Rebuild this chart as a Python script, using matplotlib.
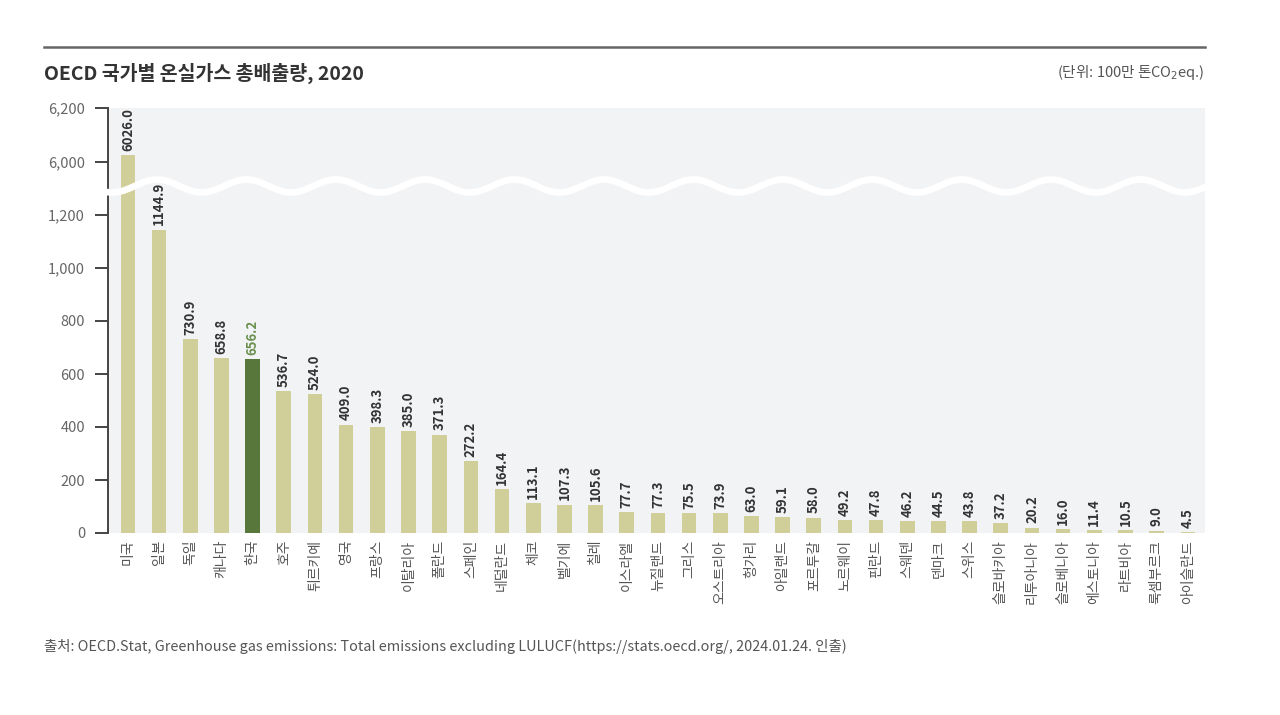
import numpy as np
import matplotlib
matplotlib.use("Agg")
import matplotlib.pyplot as plt
from matplotlib.lines import Line2D
from matplotlib.ticker import FuncFormatter

plt.rcParams['font.family'] = ['Noto Sans CJK KR', 'DejaVu Sans']

countries = ["미국", "일본", "독일", "캐나다", "한국", "호주", "튀르키예", "영국", "프랑스",
             "이탈리아", "폴란드", "스페인", "네덜란드", "체코", "벨기에", "칠레", "이스라엘",
             "뉴질랜드", "그리스", "오스트리아", "헝가리", "아일랜드", "포르투갈", "노르웨이",
             "핀란드", "스웨덴", "덴마크", "스위스", "슬로바키아", "리투아니아", "슬로베니아",
             "에스토니아", "라트비아", "룩셈부르크", "아이슬란드"]
values = [6026.0, 1144.9, 730.9, 658.8, 656.2, 536.7, 524.0, 409.0, 398.3,
          385.0, 371.3, 272.2, 164.4, 113.1, 107.3, 105.6, 77.7,
          77.3, 75.5, 73.9, 63.0, 59.1, 58.0, 49.2,
          47.8, 46.2, 44.5, 43.8, 37.2, 20.2, 16.0,
          11.4, 10.5, 9.0, 4.5]
highlight = "한국"
low_ticks = [0, 200, 400, 600, 800, 1000, 1200]
high_ticks = [6000, 6200]

W, H = 1280, 715
fig = plt.figure(figsize=(12.8, 7.15), dpi=100)

BG = "#f2f3f5"
BAR = "#d0cf9a"
KOR = "#58773b"
TXT = "#444444"

left, right = 108 / W, 1205 / W
y0 = 1 - 533 / H
ysplit = 1 - 188.5 / H
ytop = 1 - 108 / H

ax_lo = fig.add_axes([left, y0, right - left, ysplit - y0])
ax_hi = fig.add_axes([left, ysplit, right - left, ytop - ysplit], sharex=ax_lo)
ax_hi.set_zorder(0)
ax_lo.set_zorder(1)

x = np.arange(len(countries))
colors = [KOR if c == highlight else BAR for c in countries]

for ax in (ax_lo, ax_hi):
    ax.set_facecolor(BG)
    ax.bar(x, values, width=0.47, color=colors, zorder=2)
    for s in ("top", "right", "bottom"):
        ax.spines[s].set_visible(False)
    ax.spines["left"].set_color(TXT)
    ax.spines["left"].set_linewidth(1.4)
    ax.tick_params(axis="y", length=9.5, width=1.4, color=TXT, pad=7,
                   labelsize=10.5, labelcolor="#666666")
    ax.yaxis.set_major_formatter(FuncFormatter(lambda v, p: f"{int(v):,}"))

ax_lo.set_ylim(0, 1300)
ax_hi.set_ylim(5900, 6200)
ax_lo.set_yticks(low_ticks)
ax_hi.set_yticks(high_ticks)
ax_lo.set_xlim(-0.64, len(countries) - 1 + 0.55)

ax_lo.set_xticks(x)
ax_lo.set_xticklabels(countries, rotation=90, fontsize=10, color="#555555")
ax_lo.tick_params(axis="x", length=0, pad=5)
plt.setp(ax_hi.get_xticklabels(), visible=False)
ax_hi.tick_params(axis="x", length=0)

# value labels
for xi, v, c in zip(x, values, countries):
    ax = ax_hi if v > 1300 else ax_lo
    col = "#6a9150" if c == highlight else "#333333"
    ax.annotate(f"{v:.1f}", (xi, v), xytext=(0, 3), textcoords="offset points",
                rotation=90, ha="center", va="bottom", fontsize=9.5,
                fontweight="bold", color=col, zorder=6, annotation_clip=False)

# wavy break line (white), drawn in the lower axes above bars, below labels
xs = np.linspace(98, 1207, 800)
ys = 186 - 6.5 * np.cos(2 * np.pi * (xs - 157) / 89.4)
ax_lo.add_line(Line2D(xs / W, 1 - ys / H, transform=fig.transFigure,
                      color="white", lw=4.8, solid_capstyle="butt", zorder=5,
                      clip_on=False))

# top rule
fig.add_artist(Line2D([44 / W, 1205 / W], [1 - 47 / H, 1 - 47 / H],
                      transform=fig.transFigure, color="#666666", lw=1.8))

fig.text(44 / W, 1 - 73 / H, "OECD 국가별 온실가스 총배출량, 2020",
         fontsize=14, fontweight="bold", color="#333333", ha="left", va="center")
fig.text(1205 / W, 1 - 73 / H, "(단위: 100만 톤CO$_2$eq.)",
         fontsize=10.5, color="#555555", ha="right", va="center")
fig.text(44 / W, 1 - 647 / H,
         "출처: OECD.Stat, Greenhouse gas emissions: Total emissions excluding LULUCF(https://stats.oecd.org/, 2024.01.24. 인출)",
         fontsize=10.4, color="#555555", ha="left", va="center")

fig.savefig("out.png", dpi=100)
